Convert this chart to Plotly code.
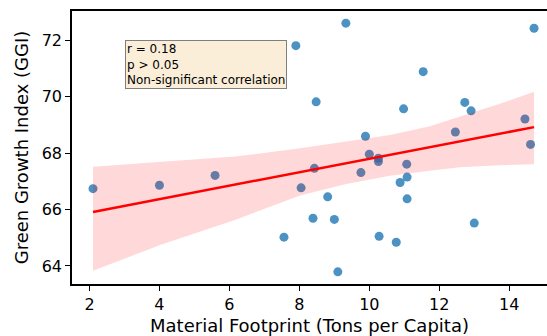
import numpy as np
import plotly.graph_objects as go

# Data
material_footprint = [2.10, 4.00, 5.59, 7.56, 7.90, 8.05, 8.39, 8.43, 8.48, 8.81, 9.00,
                      9.10, 9.33, 9.76, 9.89, 10.00, 10.26, 10.26, 10.28, 10.77, 10.88,
                      10.98, 11.07, 11.08, 11.08, 11.54, 12.46, 12.73, 12.91, 13.00,
                      14.45, 14.61, 14.71]
ggi = [66.74, 66.86, 67.21, 65.02, 71.81, 66.77, 65.69, 67.46, 69.82, 66.45, 65.65,
       63.79, 72.61, 67.31, 68.60, 67.96, 67.82, 67.70, 65.05, 64.84, 66.96,
       69.57, 67.61, 67.15, 66.38, 70.89, 68.75, 69.80, 69.50, 65.52,
       69.21, 68.31, 72.43]

# Confidence band edges
band_x = [2.10, 4.02, 6.16, 8.02, 9.31, 10.59, 11.73, 12.59, 13.73, 14.71]
band_lo = [63.83, 64.74, 65.63, 66.50, 66.90, 67.20, 67.38, 67.50, 67.57, 67.61]
band_hi = [67.52, 67.70, 67.88, 68.17, 68.40, 68.64, 68.95, 69.29, 69.75, 70.18]

x_tick_vals = [2, 4, 6, 8, 10, 12, 14]
y_tick_vals = [64, 66, 68, 70, 72]

annotation_text = "r = 0.18<br>p > 0.05<br>Non-significant correlation"

# Regression line from data
xa = np.array(material_footprint)
ya = np.array(ggi)
slope, intercept = np.polyfit(xa, ya, 1)
line_x = [xa.min(), xa.max()]
line_y = [intercept + slope * v for v in line_x]

FONT = "DejaVu Sans"

fig = go.Figure()
fig.add_trace(go.Scatter(
    x=material_footprint, y=ggi, mode="markers",
    marker=dict(size=9, color="rgba(31,119,180,0.8)", line=dict(width=0)),
    showlegend=False, hoverinfo="skip"))
fig.add_trace(go.Scatter(
    x=band_x + band_x[::-1], y=band_hi + band_lo[::-1],
    fill="toself", fillcolor="rgba(255,0,0,0.15)", line=dict(width=0),
    mode="lines", showlegend=False, hoverinfo="skip"))
fig.add_trace(go.Scatter(
    x=line_x, y=line_y, mode="lines", line=dict(color="red", width=2.5),
    showlegend=False, hoverinfo="skip"))

fig.add_annotation(
    xref="paper", yref="paper", x=0.1107, y=0.895, xanchor="left", yanchor="top",
    text=annotation_text, showarrow=False, align="left",
    font=dict(family=FONT, size=12, color="black"),
    bgcolor="rgba(245,222,179,0.5)", bordercolor="#7f7f7f", borderwidth=1, borderpad=1)

fig.update_layout(
    width=547, height=336,
    margin=dict(l=72, r=0, t=11, b=52),
    paper_bgcolor="white", plot_bgcolor="white",
    font=dict(family=FONT, size=16, color="black"),
    xaxis=dict(range=[1.5, 15.08], tickvals=x_tick_vals, ticks="outside", ticklen=5,
               tickwidth=1.2, tickcolor="black", showline=True, linecolor="black",
               linewidth=1.5, mirror=True, showgrid=False, zeroline=False,
               tickfont=dict(family=FONT, size=16),
               title=dict(text="Material Footprint (Tons per Capita)",
                          font=dict(family=FONT, size=18), standoff=6)),
    yaxis=dict(range=[63.36, 73.04], tickvals=y_tick_vals, ticks="outside", ticklen=5,
               tickwidth=1.2, tickcolor="black", showline=True, linecolor="black",
               linewidth=1.5, mirror=False, showgrid=False, zeroline=False,
               tickfont=dict(family=FONT, size=16),
               title=dict(text="Green Growth Index (GGI)",
                          font=dict(family=FONT, size=18), standoff=8)),
)

fig.write_html("out.html", config={"displayModeBar": False},
               post_script="document.body.style.margin='0';document.body.style.overflow='hidden';")
